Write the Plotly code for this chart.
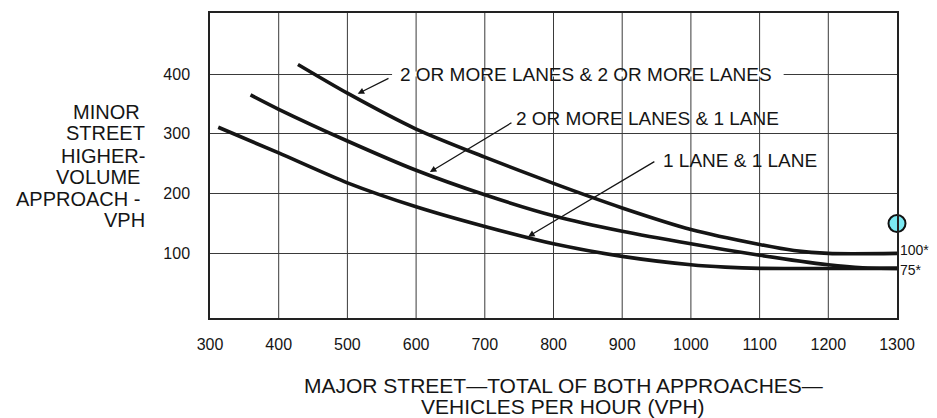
import plotly.graph_objects as go

# ---- data ----
x_tick_vals = [300, 400, 500, 600, 700, 800, 900, 1000, 1100, 1200, 1300]
x_tick_text = ["300", "400", "500", "600", "700", "800", "900", "1000", "1100", "1200", "1300"]
y_tick_vals = [100, 200, 300, 400]
y_tick_text = ["100", "200", "300", "400"]

x_2and2 = [428, 500, 600, 700, 800, 900, 1000, 1100, 1150, 1200, 1300]
y_2and2 = [416, 368, 308, 261, 217, 176, 140, 115, 105, 100, 100]

x_2and1 = [359, 400, 500, 600, 700, 800, 900, 1000, 1100, 1200, 1250, 1300]
y_2and1 = [365, 341, 288, 239, 198, 163, 137, 116, 97, 81, 76, 75]

x_1and1 = [312, 400, 500, 600, 700, 800, 900, 1000, 1050, 1100, 1300]
y_1and1 = [311, 268, 218, 178, 145, 116, 95, 81, 77, 75, 75]

series_names = ["2 OR MORE LANES & 2 OR MORE LANES", "2 OR MORE LANES & 1 LANE", "1 LANE & 1 LANE"]
threshold_vals = [100, 75]
threshold_text = ["100*", "75*"]
point_x = [1300]
point_y = [150]

y_title_lines = ["MINOR", "STREET", "HIGHER-", "VOLUME", "APPROACH -", "VPH"]
x_title_lines = ["MAJOR STREET\u2014TOTAL OF BOTH APPROACHES\u2014", "VEHICLES PER HOUR (VPH)"]

FONT = "Liberation Sans, Arial, Helvetica, sans-serif"
INK = "#151515"
GRID = "#3a3a3a"

fig = go.Figure()
for xs, ys, nm in [(x_2and2, y_2and2, series_names[0]),
                   (x_2and1, y_2and1, series_names[1]),
                   (x_1and1, y_1and1, series_names[2])]:
    fig.add_trace(go.Scatter(x=xs, y=ys, mode="lines", name=nm,
                             line=dict(color=INK, width=3.6, shape="spline", smoothing=0.7),
                             showlegend=False, hoverinfo="skip"))

fig.add_trace(go.Scatter(x=point_x, y=point_y, mode="markers", showlegend=False,
                         marker=dict(size=17, color="#7BE9F2", line=dict(color="#111", width=2)),
                         cliponaxis=False, hoverinfo="skip"))

shapes = []
# white gap where the label sits on the 400 grid line
shapes.append(dict(type="rect", xref="x", yref="y", x0=565, x1=1135, y0=396, y1=404,
                   fillcolor="white", line=dict(width=0), layer="between"))
for v in x_tick_vals[1:-1]:
    shapes.append(dict(type="line", xref="x", yref="paper", x0=v, x1=v, y0=0, y1=1,
                       line=dict(color=GRID, width=1), layer="between"))

ann = []
label_pos = [(574, 400), (743, 325), (956, 255)]
arrow_tail = [(562, 394), (741, 320), (949, 255)]
arrow_head = [(515, 367), (620, 236), (763, 128)]
for nm, (lx, ly), (tx, ty), (hx, hy) in zip(series_names, label_pos, arrow_tail, arrow_head):
    ann.append(dict(x=lx, y=ly, xref="x", yref="y", text=nm, showarrow=False,
                    xanchor="left", yanchor="middle", font=dict(family=FONT, size=19, color=INK)))
    ann.append(dict(x=hx, y=hy, xref="x", yref="y", ax=tx, ay=ty, axref="x", ayref="y",
                    text="", showarrow=True, arrowhead=2, arrowsize=1, arrowwidth=1.3,
                    arrowcolor=INK, standoff=0, startstandoff=0))

for v, t, ys in zip(threshold_vals, threshold_text, [3, -2]):
    ann.append(dict(x=1300, y=v, xref="x", yref="y", text=t, showarrow=False,
                    xanchor="left", yanchor="middle", xshift=1, yshift=ys,
                    font=dict(family=FONT, size=14, color=INK)))

y_line_pos = [0.675, 0.605, 0.531, 0.4625, 0.39, 0.3215]
y_line_x = [-0.099, -0.0917, -0.0917, -0.099, -0.099, -0.0917]
for t, yy, xx in zip(y_title_lines, y_line_pos, y_line_x):
    ann.append(dict(x=xx, y=yy, xref="paper", yref="paper", text=t, showarrow=False,
                    xanchor="right", yanchor="middle", font=dict(family=FONT, size=20, color=INK)))

for t, yy in zip(x_title_lines, [-0.2215, -0.291]):
    ann.append(dict(x=0.514, y=yy, xref="paper", yref="paper", text=t, showarrow=False,
                    xanchor="center", yanchor="middle", font=dict(family=FONT, size=21, color=INK)))

# page body has an 8px default margin; size the figure to fit the 937x418 window
fig.update_layout(
    width=929, height=410,
    margin=dict(l=202, r=40, t=3, b=100),
    paper_bgcolor="white", plot_bgcolor="white",
    shapes=shapes, annotations=ann,
    xaxis=dict(range=[300, 1300], tickvals=x_tick_vals, ticktext=x_tick_text,
               showgrid=False, zeroline=False, showline=True, mirror=True,
               linecolor="#222", linewidth=1.5, ticks="", ticklabelstandoff=11,
               tickfont=dict(family=FONT, size=16, color=INK)),
    yaxis=dict(range=[-8, 502], tickvals=y_tick_vals, ticktext=y_tick_text,
               showgrid=True, gridcolor=GRID, gridwidth=1, zeroline=False,
               showline=True, mirror=True, linecolor="#222", linewidth=1.5,
               ticks="", ticklabelstandoff=15,
               tickfont=dict(family=FONT, size=16, color=INK)),
)

fig.write_html("out.html")
